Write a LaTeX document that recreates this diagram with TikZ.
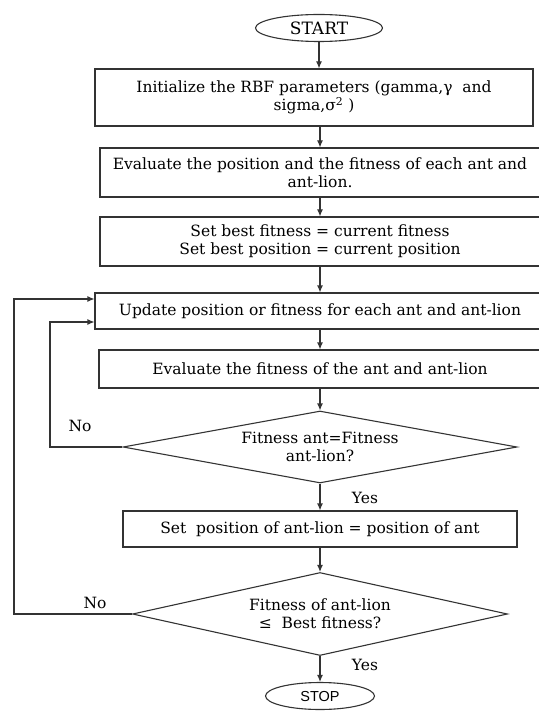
\documentclass[tikz,border=0pt]{standalone}
\usepackage{fontspec}
\setmainfont{DejaVu Serif}
\newfontfamily\stopfont{Liberation Sans}
\usepackage{tikz}
\usetikzlibrary{shapes.geometric}
\usetikzlibrary{arrows.meta}

\tikzset{
  procbox/.style={draw, shape=rectangle, align=center, inner sep=2pt},
  decision/.style={draw, shape=diamond, align=center, inner sep=0pt, aspect=5.5},
  terminal/.style={draw, shape=ellipse, inner sep=0pt, minimum height=27pt},
  flow/.style={-{Latex[length=7pt, width=6pt]}},
  answer/.style={inner sep=0pt}
}

\begin{document}
\begin{tikzpicture}[x=1pt, y=-1pt, line width=1.1pt, draw=black!80,
                    font=\fontsize{15.5}{18}\selectfont]
				% Frame:
				\useasboundingbox (0,0) rectangle (538,711);
				% Paths, nodes and wires:
				\node[terminal, minimum width=127pt, font=\fontsize{17}{18}\selectfont] (start) at (319, 28) {START};
				\node[procbox, minimum width=438pt, minimum height=57pt] (init) at (314, 97.5)
				  {Initialize the RBF parameters (gamma,γ\ \ and\\sigma,σ\textsuperscript{2} )};
				\node[procbox, minimum width=440pt, minimum height=49pt] (evalpos) at (320, 172.5)
				  {Evaluate the position and the fitness of each ant and\\ant-lion.};
				\node[procbox, minimum width=440pt, minimum height=49pt] (best) at (320, 241.5)
				  {Set best fitness = current fitness\\Set best position = current position};
				\node[procbox, minimum width=450pt, minimum height=36pt] (update) at (320, 311)
				  {Update position or fitness for each ant and ant-lion};
				\node[procbox, minimum width=442pt, minimum height=38pt] (evalfit) at (320, 369)
				  {Evaluate the fitness of the ant and ant-lion};
				\node[decision, minimum width=394pt, minimum height=72pt] (fitant) at (320, 447)
				  {Fitness ant=Fitness\\ant-lion?};
				\node[procbox, minimum width=394pt, minimum height=36pt] (setpos) at (320, 529)
				  {Set\ \ position of ant-lion = position of ant};
				\node[decision, minimum width=375pt, minimum height=83pt] (fitbest) at (320, 614)
				  {Fitness of ant-lion\\≤\ \ Best fitness?};
				\node[terminal, minimum width=109pt, font=\stopfont\fontsize{14.5}{15}\selectfont] (stop) at (320, 696) {STOP};
				\coordinate (outer) at (14, 0);
				\coordinate (inner) at (50, 0);
				% Main flow:
				\draw[flow] (start.south) -- (start.south |- init.north);
				\draw[flow] (evalpos.north |- init.south) -- (evalpos.north);
				\draw[flow] (evalpos.south) -- (best.north);
				\draw[flow] (best.south) -- (update.north);
				\draw[flow] (update.south) -- (evalfit.north);
				\draw[flow] (evalfit.south) -- (fitant.north);
				\draw[flow] (fitant.south) -- (setpos.north);
				\draw[flow] (setpos.south) -- (fitbest.north);
				\draw[flow] (fitbest.south) -- (stop.north);
				% Loops back:
				\draw[flow] (fitant.west) -- (fitant.west -| inner) |- ([yshift=-11pt]update.west);
				\draw[flow] (fitbest.west) -- (fitbest.west -| outer) |- ([yshift=12pt]update.west);
				% Labels:
				\node[answer] (no1) at (80, 426) {No};
				\node[answer] (no2) at (95, 603) {No};
				\node[answer] (yes1) at (365, 498) {Yes};
				\node[answer] (yes2) at (365, 665) {Yes};
\end{tikzpicture}
\end{document}
